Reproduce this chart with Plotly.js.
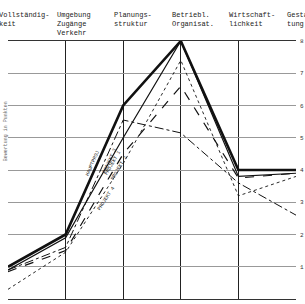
<!DOCTYPE html>
<html>
<head>
<meta charset="utf-8">
<script src="https://cdn.plot.ly/plotly-3.0.1.min.js"></script>
<style>html,body{margin:0;padding:0;background:#fff;}#chart{width:305px;height:304px;}</style>
</head>
<body>
<div id="chart"></div>
<script>
// Categories (top labels)
var categories = ["Vollständig-<br>keit", "Umgebung<br>Zugänge<br>Verkehr", "Planungs-<br>struktur", "Betriebl.<br>Organisat.", "Wirtschaft-<br>lichkeit", "Gestal-<br>tung"];
var catIndex = [0, 1, 2, 3, 4, 5];
// Series
var seriesNames = ["HAUPTPROJ", "PROJEKT 1", "PROJEKT 2", "PROJEKT 3", "PROJEKT 4"];
var hauptprojekt = [1.0, 2.0, 6.0, 8.0, 4.0, 4.0];
var projekt1 = [0.9, 1.9, 5.0, 8.0, 3.8, 3.9];
var projekt2 = [0.85, 1.5, 4.5, 6.6, 3.75, 3.9];
var projekt3 = [0.9, 1.6, 5.55, 5.15, 3.6, 2.6];
var projekt4 = [0.3, 1.45, 4.2, 7.4, 3.2, 3.8];
var yTicks = [1, 2, 3, 4, 5, 6, 7, 8];

var allSeries = [hauptprojekt, projekt1, projekt2, projekt3, projekt4];
var styles = [
  {width: 2.6, dash: "solid"},
  {width: 1.2, dash: "solid"},
  {width: 1.2, dash: "dash"},
  {width: 1.0, dash: "dashdot"},
  {width: 0.9, dash: "dot"}
];

var traces = allSeries.map(function (s, i) {
  return {
    x: catIndex, y: s, type: "scatter", mode: "lines",
    line: {color: "#111", width: styles[i].width, dash: styles[i].dash},
    name: seriesNames[i], hoverinfo: "skip"
  };
});

var W = 305, H = 304, ml = 8, mr = 9, mt = 41, mb = 5;
var plotH = H - mt - mb;
var pxX = (W - ml - mr) / 5, pxY = plotH / 8;

var annotations = [];
// top category labels (top-aligned near the page top)
categories.forEach(function (c, i) {
  annotations.push({
    x: catIndex[i], y: 1 + (mt - 9) / plotH, xref: "x", yref: "paper", yanchor: "top", xanchor: "left",
    xshift: -11, text: c, showarrow: false, align: "left",
    font: {family: "Liberation Mono, DejaVu Sans Mono, monospace", size: 7, color: "#222"}
  });
});
// labels along lines between category 1 and 2
var tpos = [0.55, 0.75, 0.85, 0.68, 0.6];
var shifts = [-5, 4, 5, 5, 6];
allSeries.forEach(function (s, i) {
  var t = tpos[i];
  var xv = catIndex[1] + t;
  var yv = s[1] + t * (s[2] - s[1]);
  var ang = -Math.atan2((s[2] - s[1]) * pxY, pxX) * 180 / Math.PI;
  annotations.push({
    x: xv, y: yv, xref: "x", yref: "y", showarrow: false, text: seriesNames[i],
    textangle: ang, xshift: shifts[i], yshift: 0,
    font: {family: "Liberation Mono, DejaVu Sans Mono, monospace", size: 5, color: "#222"}
  });
});
// left rotated title
annotations.push({
  x: 0, y: 0.65, xref: "paper", yref: "paper", xshift: -7, showarrow: false,
  text: "Bewertung in Punkten", textangle: -90,
  font: {family: "Liberation Mono, monospace", size: 5, color: "#666"}
});

var layout = {
  width: W, height: H,
  margin: {l: ml, r: mr, t: mt, b: mb, pad: 0},
  paper_bgcolor: "#fff", plot_bgcolor: "#fff",
  showlegend: false,
  xaxis: {
    range: [0, 5], tickvals: catIndex, showticklabels: false,
    showgrid: true, gridcolor: "#222", gridwidth: 1,
    zeroline: false, showline: true, linecolor: "#333", linewidth: 1, mirror: true, ticks: ""
  },
  yaxis: {
    range: [0, 8], tickvals: yTicks, ticktext: yTicks.map(String), side: "right",
    showgrid: true, gridcolor: "#999", gridwidth: 1,
    zeroline: false, showline: false, ticks: "", ticklabelstandoff: 3,
    tickfont: {family: "Liberation Mono, monospace", size: 6, color: "#333"}
  },
  annotations: annotations
};

Plotly.newPlot("chart", traces, layout, {staticPlot: true, displayModeBar: false});
</script>
</body>
</html>
